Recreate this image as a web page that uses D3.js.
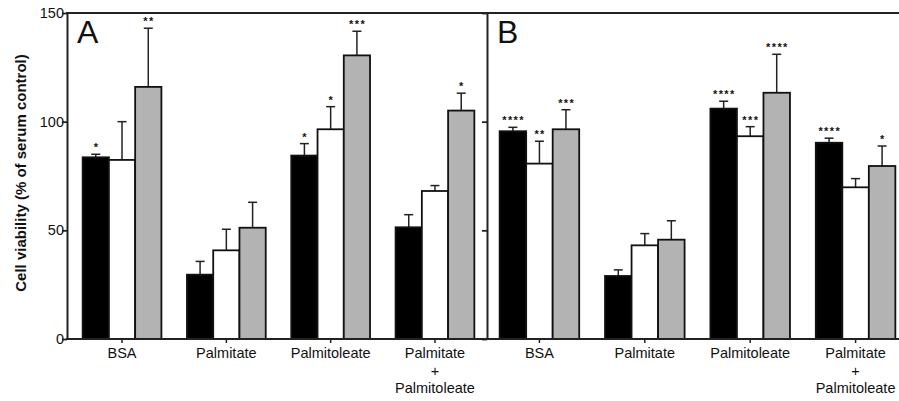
<!DOCTYPE html>
<html>
<head>
<meta charset="utf-8">
<script src="https://cdn.jsdelivr.net/npm/d3@7"></script>
<style>
  body { margin: 0; background: #fff; }
  text { font-family: "Liberation Sans", Arial, sans-serif; fill: #111; }
</style>
</head>
<body>
<script>
const width = 899;
const height = 401;

// categories and the three bar series (black / white / grey) for each panel
const categories = ["BSA", "Palmitate", "Palmitoleate", "Palmitate + Palmitoleate"];
const categoryLines = [["BSA"], ["Palmitate"], ["Palmitoleate"], ["Palmitate", "+", "Palmitoleate"]];
const seriesKeys = ["black", "white", "grey"];
const yTicks = [0, 50, 100, 150];

// panel A
const aBlack = [83.6, 29.6, 84.4, 51.4];
const aWhite = [82.4, 40.8, 96.5, 68.1];
const aGrey = [116.0, 51.2, 130.5, 105.1];
const aBlackErr = [1.4, 6.1, 5.5, 5.8];
const aWhiteErr = [17.6, 9.7, 10.4, 2.5];
const aGreyErr = [27.0, 11.7, 11.1, 8.0];
const aBlackSig = ["*", "", "*", ""];
const aWhiteSig = ["", "", "*", ""];
const aGreySig = ["**", "", "***", "*"];

// panel B
const bBlack = [95.6, 29.0, 106.0, 90.3];
const bWhite = [80.7, 43.1, 93.3, 69.8];
const bGrey = [96.5, 45.7, 113.3, 79.6];
const bBlackErr = [1.8, 2.8, 3.4, 2.1];
const bWhiteErr = [10.3, 5.4, 4.4, 4.0];
const bGreyErr = [9.0, 8.7, 17.7, 9.2];
const bBlackSig = ["****", "", "****", "****"];
const bWhiteSig = ["**", "", "***", ""];
const bGreySig = ["***", "", "****", "*"];

const fills = { black: "#000", white: "#fff", grey: "#b3b3b3" };

const svg = d3.select("body")
    .append("svg")
    .attr("width", width)
    .attr("height", height);

const y = d3.scaleLinear().domain([0, 150]).range([339, 13]);

function buildRows(blk, wht, gry, eb, ew, eg, sb, sw, sg) {
    const rows = [];
    categories.forEach((c, i) => {
        rows.push({ cat: c, key: "black", value: blk[i], err: eb[i], sig: sb[i] });
        rows.push({ cat: c, key: "white", value: wht[i], err: ew[i], sig: sw[i] });
        rows.push({ cat: c, key: "grey", value: gry[i], err: eg[i], sig: sg[i] });
    });
    return rows;
}

const panels = [
    { label: "A", x0: 67, x1: 490, outer: 0.15, lineEnd: 487,
      rows: buildRows(aBlack, aWhite, aGrey, aBlackErr, aWhiteErr, aGreyErr, aBlackSig, aWhiteSig, aGreySig) },
    { label: "B", x0: 487, x1: 908, outer: 0.12, lineEnd: 899,
      rows: buildRows(bBlack, bWhite, bGrey, bBlackErr, bWhiteErr, bGreyErr, bBlackSig, bWhiteSig, bGreySig) }
];

panels.forEach((p, pi) => {
    const x = d3.scaleBand()
        .domain(categories)
        .range([p.x0, p.x1])
        .paddingInner(0.245)
        .paddingOuter(p.outer);
    const xs = d3.scaleBand()
        .domain(seriesKeys)
        .range([0, x.bandwidth()]);

    const g = svg.append("g");

    // error bars first, bars drawn over the stem base
    const eb = g.selectAll(".err")
        .data(p.rows)
        .enter()
        .append("g")
        .attr("class", "err");
    eb.append("line")
        .attr("x1", d => x(d.cat) + xs(d.key) + xs.bandwidth() / 2)
        .attr("x2", d => x(d.cat) + xs(d.key) + xs.bandwidth() / 2)
        .attr("y1", d => y(d.value))
        .attr("y2", d => y(d.value + d.err))
        .attr("stroke", "#222")
        .attr("stroke-width", 1.5);
    eb.append("line")
        .attr("x1", d => x(d.cat) + xs(d.key) + xs.bandwidth() / 2 - 4.5)
        .attr("x2", d => x(d.cat) + xs(d.key) + xs.bandwidth() / 2 + 4.5)
        .attr("y1", d => y(d.value + d.err))
        .attr("y2", d => y(d.value + d.err))
        .attr("stroke", "#222")
        .attr("stroke-width", 1.5);

    g.selectAll(".bar")
        .data(p.rows)
        .enter()
        .append("rect")
        .attr("class", "bar")
        .attr("x", d => x(d.cat) + xs(d.key))
        .attr("y", d => y(d.value))
        .attr("width", xs.bandwidth())
        .attr("height", d => y(0) - y(d.value))
        .attr("fill", d => fills[d.key])
        .attr("stroke", "#111")
        .attr("stroke-width", 1.8);

    // significance stars
    g.selectAll(".sig")
        .data(p.rows.filter(d => d.sig))
        .enter()
        .append("text")
        .attr("class", "sig")
        .attr("x", d => x(d.cat) + xs(d.key) + xs.bandwidth() / 2 + 0.7)
        .attr("y", d => y(d.value + d.err) - 3)
        .attr("text-anchor", "middle")
        .attr("font-size", 11)
        .attr("font-weight", "bold")
        .attr("letter-spacing", 1.4)
        .text(d => d.sig);

    // y axis
    const yAxis = d3.axisLeft(y)
        .tickValues(yTicks)
        .tickSize(5)
        .tickSizeOuter(0)
        .tickFormat(pi === 0 ? d3.format("d") : "");
    const ya = svg.append("g")
        .attr("transform", `translate(${p.x0},0)`)
        .call(yAxis);
    ya.select(".domain").attr("stroke", "#222").attr("stroke-width", 2);
    ya.selectAll(".tick line").attr("stroke", "#222").attr("stroke-width", 1.8);
    ya.selectAll(".tick text")
        .attr("font-size", 14.5)
        .attr("font-family", "Liberation Sans, Arial, sans-serif")
        .attr("fill", "#111")
        .attr("x", -3);

    // x axis
    const xAxis = d3.axisBottom(x).tickSize(4).tickSizeOuter(0).tickFormat("");
    const xa = svg.append("g")
        .attr("transform", `translate(0,${y(0)})`)
        .call(xAxis);
    xa.select(".domain").remove();
    xa.selectAll(".tick line").attr("stroke", "#222").attr("stroke-width", 1.5);
    svg.append("line")
        .attr("x1", p.x0 - 1)
        .attr("x2", p.lineEnd)
        .attr("y1", y(0))
        .attr("y2", y(0))
        .attr("stroke", "#222")
        .attr("stroke-width", 2);

    // category labels (multi-line)
    const lab = svg.selectAll(".cat" + pi)
        .data(categories)
        .enter()
        .append("text")
        .attr("class", "cat" + pi)
        .attr("text-anchor", "middle")
        .attr("font-size", 14.5)
        .attr("x", d => x(d) + x.bandwidth() / 2)
        .attr("y", 358);
    lab.selectAll("tspan")
        .data((d, i) => categoryLines[i])
        .enter()
        .append("tspan")
        .attr("x", function () { return d3.select(this.parentNode).attr("x"); })
        .attr("dy", (d, i) => i === 0 ? 0 : 17.5)
        .text(d => d);

    // panel letter
    svg.append("text")
        .attr("x", p.x0 + 10)
        .attr("y", 43)
        .attr("font-size", 32)
        .text(p.label);
});

// top frame line across both panels
svg.append("line")
    .attr("x1", 66)
    .attr("x2", width)
    .attr("y1", y(150))
    .attr("y2", y(150))
    .attr("stroke", "#222")
    .attr("stroke-width", 2);

// y axis title
svg.append("text")
    .attr("transform", "translate(26,173) rotate(-90)")
    .attr("text-anchor", "middle")
    .attr("font-size", 15)
    .attr("font-weight", "bold")
    .text("Cell viability (% of serum control)");
</script>
</body>
</html>
